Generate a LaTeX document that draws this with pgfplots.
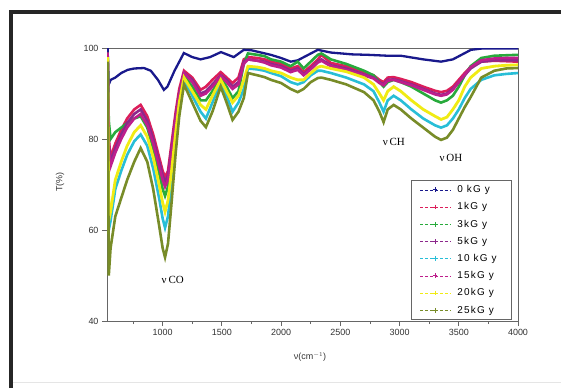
\documentclass[border=0pt]{standalone}
\usepackage{fontspec}
\setmainfont{Liberation Sans}
\newfontfamily\timesf{Liberation Serif}
\usepackage{pgfplots}
\usepackage{pgfplotstable}
\pgfplotsset{compat=1.18}
\definecolor{cnavy}{RGB}{25,25,140}
\definecolor{ccrim}{RGB}{220,30,90}
\definecolor{cgreen}{RGB}{40,170,60}
\definecolor{cpurp}{RGB}{140,40,140}
\definecolor{ccyan}{RGB}{40,190,215}
\definecolor{cmag}{RGB}{190,30,140}
\definecolor{cyell}{RGB}{240,235,20}
\definecolor{colive}{RGB}{120,140,40}

\pgfplotstableread{
x v0
535 100
545 92
561 93
600 93.5
650 94.5
705 95.2
760 95.5
842 95.6
900 95
960 93
1010 90.8
1040 91.5
1100 95
1179 98.9
1250 98
1320 97.5
1400 98
1492 99.1
1600 98
1685 99.6
1750 99.5
1913 98.5
2000 97.8
2082 97
2141 97.3
2192 98
2310 99.6
2420 99
2600 98.6
2733 98.5
2900 98.3
3011 98.3
3200 97.5
3350 97
3450 97.5
3603 99.6
3700 99.9
4000 99.9
}\zero

\pgfplotstableread{
x u g p c m y l
535 99 99 99 98 99 98 97
545 80 84 79 60 78 62 50
560 76 80 75 62 74 64 56
600 79 81.5 78 69 77 71 63
650 82 82.5 81 73 80 75 67
700 84.5 83.5 83.5 76.5 82.5 78.5 71
760 86.5 84.5 85.5 79.5 84.5 81.5 75
814 87.5 85 86.5 81 85.5 83 78
870 85 82.5 84 78.5 83 80.5 75
920 81 78 80 73.5 79 76 69
970 76 72.5 75 67 74 70 61
1000 73 69 72 62.5 71 66 56
1020 71.6 67.5 70.5 60.5 69.5 64 54
1045 73 69.5 72 63 71 66.5 57
1075 79 75.5 78 70 77 73 66
1110 86 83.5 85 79 84.5 81.5 77
1140 91 89 90 86.5 89.5 88 85
1180 95 94 94.5 93 94.5 93.5 92
1250 93.5 91.5 93 89.5 92.5 90.5 88
1320 90.8 88.5 90 86 89.5 87.5 84
1365 91.5 88.5 90.5 84.5 90 86.5 82.6
1420 93 90.5 92 88 91.5 89.5 86
1490 94.7 93.5 94 92.5 93.8 93 91.5
1540 93.5 91.5 93 89.5 92.5 90.5 88
1590 92.3 89 91.5 86 91 88 84.2
1640 93.5 90.5 92.5 88 92 89.5 86
1685 97.5 96.5 97 91 96.5 93 89
1720 98 98.8 97.5 95.5 97.5 96 94.5
1800 97.8 98.5 97.2 95.3 97.2 95.8 94
1860 97.5 98.2 97 95 96.8 95.5 93.6
1915 97 97.5 96.5 94.5 96.2 95 93
2000 96.5 97 96 93.8 95.7 94.5 92.3
2080 95.5 96 95 92.5 94.7 93.5 91
2140 96 97 95.5 92 95.2 93 90.3
2190 94.7 95.5 94.2 92.5 94 93 91
2250 96 97 95.5 94 95.3 94.5 92.5
2310 97.5 98.5 97 95 96.8 95.8 93.4
2340 98.5 98.8 97.5 95 97.2 96 93.5
2420 96.7 97.5 96.2 94.5 96 95.5 93
2550 96 96.5 95.5 93.5 95.2 94.8 92
2700 94.7 95 94.2 92 94 93.5 90.3
2780 94 94 93.5 90.5 93.3 92 88.5
2830 93 92.5 92.5 88 92.3 90 86
2865 92.5 91.5 92 86 91.8 88.5 83.7
2900 93.5 92.5 93 88.5 92.8 90.5 86.5
2950 93.6 93 93.1 89.5 93 91.5 87.5
3010 93.2 92.5 92.7 88.5 92.5 90.5 86.5
3100 92.5 91.5 92 86.5 91.8 88.5 84.5
3200 91.5 90 91 84.5 90.8 86.5 82.5
3300 90.6 88.5 90 83 89.8 85 80.5
3350 90.3 88 89.7 82.5 89.5 84.3 79.8
3400 90.6 88.5 90 83 89.8 84.8 80.3
3450 91.5 89.5 91 84.5 90.8 86.5 82
3500 93 91.5 92.5 86.5 92.5 88.5 84.5
3550 94.5 94 94 89 94.2 91.5 87
3600 95.8 96 95.5 91 95.8 93.5 89.2
3690 97 97.8 97 93 97.3 95.5 93.5
3800 97.2 98.3 97.3 94 97.7 96 95
3900 97.1 98.4 97.3 94.3 97.8 96.2 95.5
4000 97 98.5 97.3 94.5 97.8 96.3 95.6
}\irr

\begin{document}
\begin{tikzpicture}[x=1bp,y=1bp]
\path[use as bounding box] (0,0) rectangle (561,388);
\fill[white] (0,0) rectangle (561,388);
\draw[line width=4bp, black!85] (10.5,0) -- (10.5,375.5) -- (561,375.5);
\draw[line width=1bp, black!10] (13,6) -- (561,6);
\begin{axis}[
  at={(107bp,67bp)}, anchor=south west,
  width=411bp, height=273bp, scale only axis,
  xmin=530, xmax=4000, ymin=40, ymax=100,
  xtick={1000,1500,2000,2500,3000,3500,4000},
  minor xtick={750,1250,1750,2250,2750,3250,3750},
  ytick={40,60,80,100},
  tick align=outside,
  major tick length=5bp, minor tick length=3bp,
  xtick pos=bottom, ytick pos=left,
  axis line style={black!60, line width=0.9bp},
  every tick/.style={black!60, line width=0.8bp},
  tick label style={font=\fontsize{9}{10}\selectfont, text=black!80},
  /pgf/number format/assume math mode=true,
  /pgf/number format/1000 sep={},
  legend style={at={(rel axis cs:0.985,0.004)}, anchor=south east,
    draw=black!60, line width=0.6bp, fill=white,
    font=\fontsize{10}{11}\selectfont\addfontfeature{LetterSpace=12},
    row sep=4.5bp, inner xsep=8bp, inner ysep=3bp,
    nodes={inner xsep=7bp}},
  legend cell align=left,
  legend image code/.code={
    \draw[#1,line width=0.7bp,densely dashed] (0bp,0bp) -- (30bp,0bp);
    \draw[#1,line width=0.8bp,solid] plot[mark=+,mark size=2.4bp] coordinates {(15bp,0bp)};
  },
]
\addplot[cnavy, line width=2.3bp] table[x=x,y=v0] {\zero};
\addlegendentry{0 kG y}
\addplot[ccrim, line width=2.6bp] table[x=x,y=u] {\irr};
\addlegendentry{1kG y}
\addplot[cgreen, line width=2.6bp] table[x=x,y=g] {\irr};
\addlegendentry{3kG y}
\addplot[cpurp, line width=2.6bp] table[x=x,y=p] {\irr};
\addlegendentry{5kG y}
\addplot[ccyan, line width=2.6bp] table[x=x,y=c] {\irr};
\addlegendentry{10 kG y}
\addplot[cmag, line width=2.6bp] table[x=x,y=m] {\irr};
\addlegendentry{15kG y}
\addplot[cyell, line width=2.8bp] table[x=x,y=y] {\irr};
\addlegendentry{20kG y}
\addplot[colive, line width=2.6bp] table[x=x,y=l] {\irr};
\addlegendentry{25kG y}
\node[font=\timesf\fontsize{11}{12}\selectfont] at (axis cs:1085,49) {ν\,CO};
\node[font=\timesf\fontsize{11}{12}\selectfont] at (axis cs:2952,79.3) {ν\,CH};
\node[font=\timesf\fontsize{11}{12}\selectfont] at (axis cs:3434,75.8) {ν\,OH};
\end{axis}
\node[rotate=90, font=\fontsize{9}{10}\selectfont, text=black!80] at (60,206) {T(\%)};
\node[font=\fontsize{9}{10}\selectfont, text=black!80] at (310,31) {ν(cm$^{-1}$)};
\end{tikzpicture}
\end{document}
